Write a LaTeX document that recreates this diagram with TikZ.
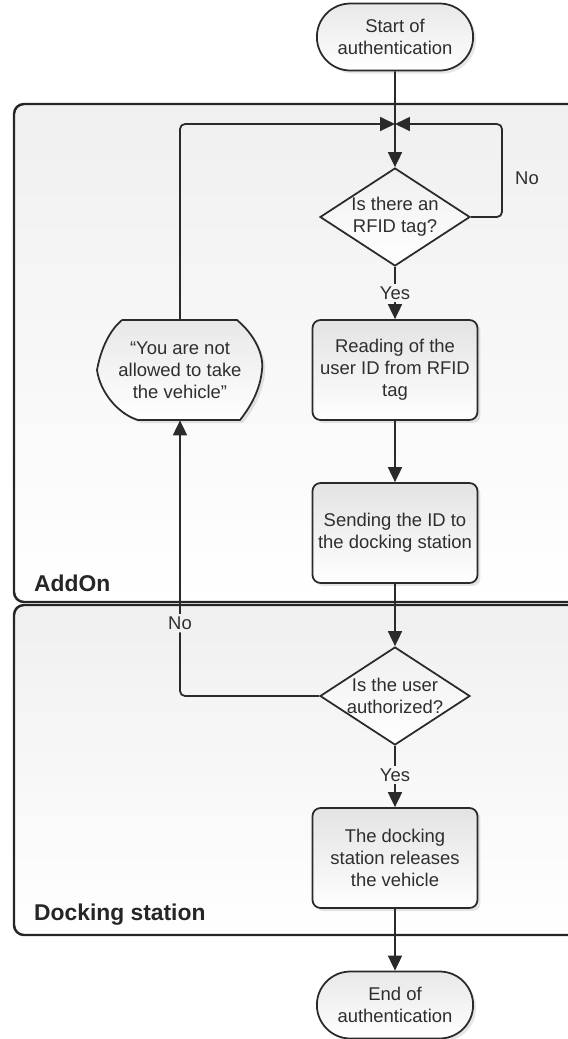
\documentclass[tikz,border=0pt]{standalone}
\usepackage{fontspec}
\setmainfont{Liberation Sans}
\usetikzlibrary{arrows.meta,shapes.geometric,shapes.misc,shadows}
\definecolor{linegray}{HTML}{2A2A2A}
\definecolor{txtgray}{HTML}{2E2E2E}
\tikzset{
	>={Triangle[length=0.3cm,width=0.28cm]},
	every node/.style={font=\fontsize{10.5}{12.5}\selectfont, text=txtgray},
	shadowed/.style={drop shadow={opacity=0.2, shadow xshift=0.06cm, shadow yshift=-0.06cm}},
	terminal/.style={rounded rectangle, draw=linegray, line width=1pt, minimum width=3.36cm, minimum height=1.34cm, top color=gray!18, bottom color=white, align=center, shadowed},
	process/.style={rectangle, rounded corners=0.16cm, draw=linegray, line width=1pt, minimum width=3.3cm, minimum height=2cm, inner sep=2pt, top color=gray!22, bottom color=white, align=center, shadowed},
	decision/.style={diamond, aspect=1.5, draw=linegray, line width=1pt, minimum width=3cm, minimum height=1.96cm, inner sep=0pt, inner xsep=-4pt, top color=gray!12, bottom color=white, align=center},
	message/.style={draw=linegray, line width=1pt, top color=gray!18, bottom color=white, shadowed},
	lane/.style={draw=black!85, line width=1.4pt, rounded corners=0.2cm, top color=gray!12, bottom color=white},
	lanename/.style={font=\fontsize{13}{15}\selectfont\bfseries, text=black!85, anchor=west},
	lbl/.style={inner sep=1.5pt},
	flow/.style={draw=linegray, line width=1pt},
}
\begin{document}
\begin{tikzpicture}[x=0.02cm, y=-0.02cm]
		\useasboundingbox (0,0) rectangle (568,1039);
		% swimlanes
		\draw [lane] (568,104) -- (14,104) -- (14,602) -- (568,602);
		\draw [lane] (568,605) -- (14,605) -- (14,935) -- (568,935);
		\node [lanename] (20) at (28,583) {AddOn};
		\node [lanename] (21) at (28,915) {Docking station};
		% steps
		\node [terminal] (0) at (395,37) {Start of\\authentication};
		\node [decision] (1) at (395,217) {Is there an\\RFID tag?};
		\node [process] (2) at (395,370) {Reading of the\\user ID from RFID\\tag};
		\node [process] (3) at (395,533) {Sending the ID to\\the docking station};
		\node [decision] (4) at (395,696) {Is the user\\authorized?};
		\node [process] (5) at (395,858) {The docking\\station releases\\the vehicle};
		\node [terminal] (6) at (395,1005) {End of\\authentication};
		% message shape
		\draw [message] (122,320) -- (237,320) .. controls (255,335) and (264,355) .. (262,370) .. controls (260,390) and (251,406) .. (240,420) -- (138,420) .. controls (118,414) and (100,392) .. (97,370) .. controls (101,348) and (110,330) .. (122,320);
		\node [align=center, minimum width=3.3cm, minimum height=2cm] (7) at (180,370) {“You are not\\allowed to take\\the vehicle”};
		\coordinate (8) at (395,124);
		\coordinate (9) at (502,124);
		\node [lbl] (10) at (395,293) {Yes};
		\node [lbl] (11) at (395,775) {Yes};
		\node [lbl] (12) at (180,623) {No};
		\node [lbl] (13) at (527,178) {No};
		% connectors
		\draw [flow, ->] (0) to (1);
		\draw [flow, ->, rounded corners=0.1cm] (1.east) -| (9) -- (8);
		\draw [flow, ->, rounded corners=0.1cm] (7.north) |- (8);
		\draw [flow] (1) to (10);
		\draw [flow, ->] (10) to (2);
		\draw [flow, ->] (2) to (3);
		\draw [flow, ->] (3) to (4);
		\draw [flow] (4) to (11);
		\draw [flow, ->] (11) to (5);
		\draw [flow, ->] (5) to (6);
		\draw [flow, rounded corners=0.1cm] (4.west) -| (12.south);
		\draw [flow, ->] (12) to (7);
\end{tikzpicture}
\end{document}
